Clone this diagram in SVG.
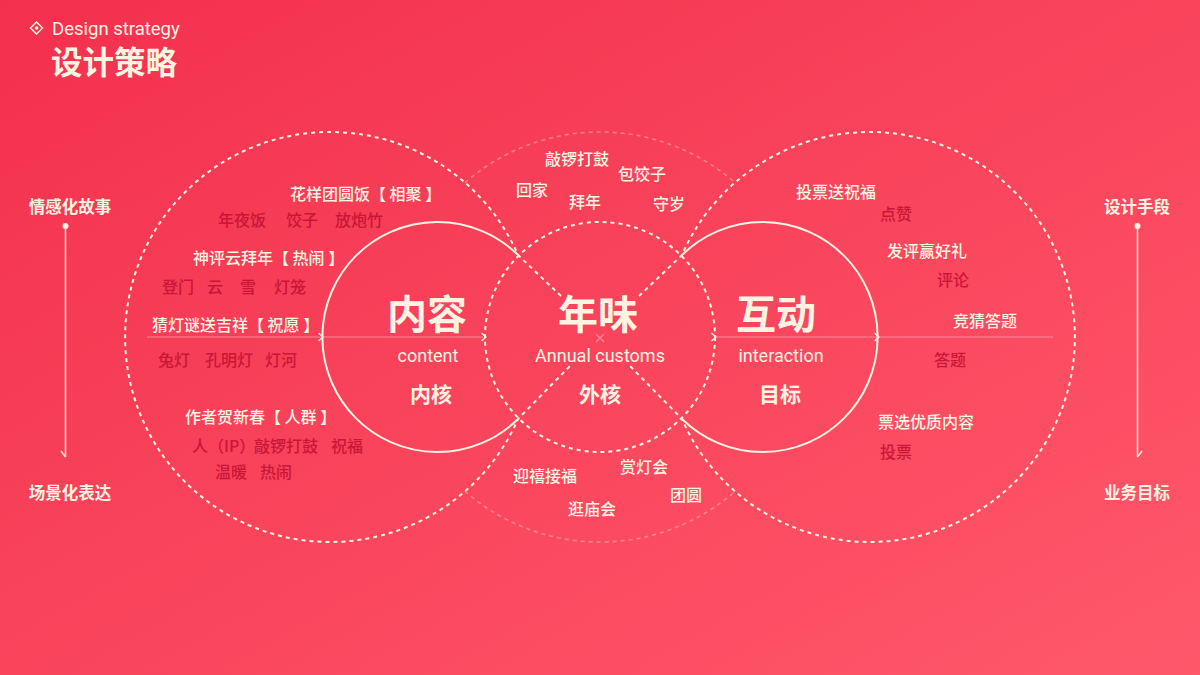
<svg xmlns="http://www.w3.org/2000/svg" width="1200" height="675" viewBox="0 0 1200 675">
  <defs>
    <linearGradient id="bg" x1="0" y1="0" x2="1" y2="1">
      <stop offset="0" stop-color="#f3304d"/>
      <stop offset="1" stop-color="#ff586b"/>
    </linearGradient>
    <style>
      .cr{fill:#fff3e2}
      .dk{fill:#c20f33;opacity:.85}
      .cjk{font-family:"Noto Sans CJK SC","Noto Sans",sans-serif}
      .lat{font-family:Roboto,"Noto Sans",sans-serif}
      .big{font-size:40px;font-weight:700;text-anchor:middle}
      .en{font-size:18px;font-weight:400;text-anchor:middle}
      .core{font-size:21px;font-weight:700;text-anchor:middle}
      .it{font-size:16px;font-weight:500}
      .side{font-size:16.5px;font-weight:700;text-anchor:middle}
      .solid{fill:none;stroke:#fff3e2;stroke-width:2}
      .dash{fill:none;stroke:#fff3e2;stroke-width:2;stroke-dasharray:4 4}
      .faint{fill:none;stroke:#fff3e2;stroke-width:1.6;stroke-dasharray:4 4;opacity:.35}
      .hline{stroke:#ffc2ca;stroke-width:1;opacity:.55}
      .chev{fill:none;stroke:#fff3e2;stroke-width:1.5;stroke-linecap:round;stroke-linejoin:round}
      .vline{stroke:#fff3e2;stroke-width:1.5;opacity:.9;fill:none}
    </style>
  </defs>

  <rect width="1200" height="675" fill="url(#bg)"/>

  <g id="title">
    <path d="M36.5 22 L42.5 28 L36.5 34 L30.5 28 Z" fill="none" stroke="#fff3e2" stroke-width="1.5"/>
    <circle cx="36.5" cy="28" r="1.8" class="cr"/>
    <text x="52" y="35" class="cr lat" font-size="18.5" font-weight="400">Design strategy</text>
    <text x="51" y="74" class="cr cjk" font-size="31.5" font-weight="700">设计策略</text>
  </g>

  <g id="connectors">
    <path class="faint" d="M465 182.7 A205 205 0 0 1 735 182.7"/>
    <path class="faint" d="M465 491.3 A205 205 0 0 0 735 491.3"/>
    <path class="dash" d="M561 296 L518 255 A205 205 0 1 0 518 419 L570 366"/>
    <path class="dash" d="M639 296 L682 255 A205 205 0 1 1 682 419 L630 366"/>
    <circle class="dash" cx="600" cy="337" r="115"/>
    <path class="solid" d="M518 255 A115 115 0 1 0 518 419"/>
    <path class="solid" d="M682 255 A115 115 0 1 1 682 419"/>
    <line class="hline" x1="147" y1="337" x2="483" y2="337"/>
    <line class="hline" x1="717" y1="337" x2="1053" y2="337"/>
    <path d="M596 334 L604 342 M604 334 L596 342" stroke="#ffa3b0" stroke-width="1.2" opacity=".7"/>
    <path class="chev" d="M319 333.5 L323 337 L319 340.5"/>
    <path class="chev" d="M482 333.5 L486 337 L482 340.5"/>
    <path class="chev" d="M712 333.5 L716 337 L712 340.5"/>
    <path class="chev" d="M875 333.5 L879 337 L875 340.5"/>
  </g>

  <g id="side-left">
    <text x="70" y="213" class="cr cjk side">情感化故事</text>
    <circle cx="65.5" cy="226" r="3" class="cr"/>
    <path class="vline" d="M65.5 226 L65.5 457 M61 451 L65.5 457"/>
    <text x="70" y="499" class="cr cjk side">场景化表达</text>
  </g>

  <g id="side-right">
    <text x="1137" y="213" class="cr cjk side">设计手段</text>
    <circle cx="1137.5" cy="226" r="3" class="cr"/>
    <path class="vline" d="M1137.5 226 L1137.5 457 M1142 451 L1137.5 457"/>
    <text x="1137" y="499" class="cr cjk side">业务目标</text>
  </g>

  <g id="node-content">
    <text x="427" y="329" class="cr cjk big">内容</text>
    <text x="428" y="362" class="cr lat en">content</text>
    <text x="431" y="402" class="cr cjk core">内核</text>
  </g>

  <g id="node-annual">
    <text x="598" y="329" class="cr cjk big">年味</text>
    <text x="600" y="362" class="cr lat en">Annual customs</text>
    <text x="600" y="402" class="cr cjk core">外核</text>
  </g>

  <g id="node-interaction">
    <text x="776" y="329" class="cr cjk big">互动</text>
    <text x="781" y="362" class="cr lat en">interaction</text>
    <text x="780" y="402" class="cr cjk core">目标</text>
  </g>

  <g id="content-items" class="cjk it">
    <text x="290" y="200" class="cr">花样团圆饭【 相聚 】</text>
    <text y="226" class="dk"><tspan x="218">年夜饭</tspan><tspan x="286">饺子</tspan><tspan x="335">放炮竹</tspan></text>
    <text x="193" y="264" class="cr">神评云拜年【 热闹 】</text>
    <text y="293" class="dk"><tspan x="162">登门</tspan><tspan x="207">云</tspan><tspan x="240">雪</tspan><tspan x="274">灯笼</tspan></text>
    <text x="152" y="331" class="cr">猜灯谜送吉祥【 祝愿 】</text>
    <text y="366" class="dk"><tspan x="158">兔灯</tspan><tspan x="205">孔明灯</tspan><tspan x="265">灯河</tspan></text>
    <text x="185" y="423" class="cr">作者贺新春【 人群 】</text>
    <text y="452" class="dk"><tspan x="192">人（IP）</tspan><tspan x="254">敲锣打鼓</tspan><tspan x="331">祝福</tspan></text>
    <text y="478" class="dk"><tspan x="215">温暖</tspan><tspan x="260">热闹</tspan></text>
  </g>

  <g id="annual-items" class="cjk it cr">
    <text x="545" y="165">敲锣打鼓</text>
    <text x="618" y="180">包饺子</text>
    <text x="516" y="196">回家</text>
    <text x="569" y="208">拜年</text>
    <text x="653" y="210">守岁</text>
    <text x="513" y="482">迎禧接福</text>
    <text x="620" y="473">赏灯会</text>
    <text x="670" y="501">团圆</text>
    <text x="568" y="515">逛庙会</text>
  </g>

  <g id="interaction-items" class="cjk it">
    <text x="796" y="198" class="cr">投票送祝福</text>
    <text x="880" y="220" class="dk">点赞</text>
    <text x="887" y="257" class="cr">发评赢好礼</text>
    <text x="937" y="286" class="dk">评论</text>
    <text x="953" y="327" class="cr">竞猜答题</text>
    <text x="934" y="366" class="dk">答题</text>
    <text x="878" y="428" class="cr">票选优质内容</text>
    <text x="880" y="458" class="dk">投票</text>
  </g>
</svg>
